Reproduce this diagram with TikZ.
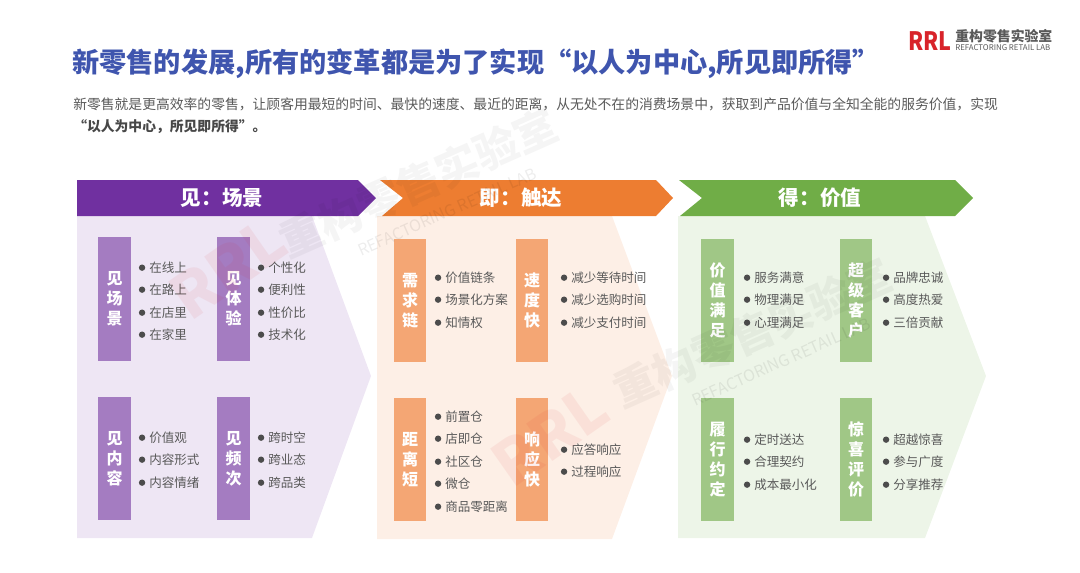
\documentclass[tikz,border=0pt]{standalone}
\usepackage{fontspec}
\setmainfont{Noto Sans CJK SC}
\definecolor{titleblue}{HTML}{3F55AE}
\definecolor{bodygray}{HTML}{595959}
\definecolor{jianmain}{HTML}{7030A0}
\definecolor{jiantint}{HTML}{EEE6F4}
\definecolor{jianbox}{HTML}{A47CC1}
\definecolor{jimain}{HTML}{ED7D31}
\definecolor{jitint}{HTML}{FDEFE6}
\definecolor{jibox}{HTML}{F4A674}
\definecolor{demain}{HTML}{70AD47}
\definecolor{detint}{HTML}{EDF5E8}
\definecolor{debox}{HTML}{A0C786}
\definecolor{logored}{HTML}{D8232A}
\tikzset{
    headtext/.style={text=white, font=\fontsize{15.4}{18}\selectfont\bfseries, inner sep=0pt},
    sidebox/.style={minimum width=24.5pt, minimum height=92.5pt, inner sep=0pt, align=center,
        text=white, font=\fontsize{12}{15}\selectfont\bfseries},
    itemdot/.style={circle, fill=bodygray!85!black, minimum size=4.8pt, inner sep=0pt},
    itemtext/.style={anchor=west, inner sep=0pt, yshift=-0.5pt, text=bodygray, font=\fontsize{9.4}{11}\selectfont,
        label={[itemdot, label distance=2.6pt]left:{}}},
    markcn/.style={rotate=24, text=black, opacity=0.04, font=\fontsize{32}{36}\selectfont\bfseries, inner sep=0pt},
    marken/.style={rotate=24, text=black, opacity=0.07, font=\fontsize{12}{14}\selectfont, inner sep=0pt},
    markrrl/.style={rotate=35, text=logored, opacity=0.07, font=\fontsize{46}{50}\selectfont\bfseries, inner sep=0pt},
}
\begin{document}
\begin{tikzpicture}[x=0.75pt, y=-0.75pt]
    \useasboundingbox (0,0) rectangle (1080,572);

    % Title and intro
    \node[anchor=west, inner sep=0pt, text=titleblue, font=\fontsize{20.4}{25}\selectfont\bfseries] (title) at (72,64)
        {新零售的发展,所有的变革都是为了实现“以人为中心,所见即所得”};
    \node[anchor=west, inner sep=0pt, text=bodygray, font=\fontsize{10.35}{13}\selectfont] (introa) at (73,104)
        {新零售就是更高效率的零售，让顾客用最短的时间、最快的速度、最近的距离，从无处不在的消费场景中，获取到产品价值与全知全能的服务价值，实现};
    \node[anchor=west, inner sep=0pt, text=bodygray!80!black, font=\fontsize{10.35}{13}\selectfont\bfseries] (introb) at (73,127)
        {“以人为中心，所见即所得”。};

    % Logo
    \node[anchor=west, inner sep=0pt, xscale=0.85, text=logored, font=\fontsize{19}{22}\selectfont\bfseries] (logorrl) at (908,41) {RRL};
    \node[anchor=west, inner sep=0pt, text=bodygray, font=\fontsize{10.4}{12}\selectfont\bfseries] (logocn) at (955,36) {重构零售实验室};
    \node[anchor=west, inner sep=0pt, text=bodygray, font=\fontsize{5.9}{7}\selectfont] (logoen) at (955,48) {REFACTORING RETAIL LAB};

    % Tinted chevrons
    \fill[jiantint] (77,216) -- (312,216) -- (371,376) -- (312,538) -- (77,538) -- cycle;
    \fill[jitint] (377,216) -- (612,216) -- (672,376) -- (612,539) -- (377,539) -- cycle;
    \fill[detint] (678,216) -- (925,216) -- (986,376) -- (925,538) -- (678,538) -- cycle;

    % Header arrows
    \fill[jianmain] (77,180) -- (358,180) -- (376,198) -- (358,216) -- (77,216) -- cycle;
    \fill[jimain] (380,180) -- (656,180) -- (673,198) -- (656,216) -- (382,216) -- (403,198) -- cycle;
    \fill[demain] (679,180) -- (955,180) -- (973,198) -- (955,216) -- (680,216) -- (702,198) -- cycle;
    \node[headtext] (headjian) at (222,198) {见：场景};
    \node[headtext] (headji) at (521,198) {即：触达};
    \node[headtext] (headde) at (820,198) {得：价值};

    % Side boxes
    \foreach \nm/\px/\py/\txt in {jiana/114.5/299/见\\场\\景, jianb/233.5/299/见\\体\\验,
            jianc/114.5/458.5/见\\内\\容, jiand/233.5/458.5/见\\频\\次}
        \node[sidebox, fill=jianbox] (\nm) at (\px,\py) {\txt};
    \foreach \nm/\px/\py/\txt in {jia/410/300.5/需\\求\\链, jib/532/300.5/速\\度\\快,
            jic/410/459.5/距\\离\\短, jid/532/459.5/响\\应\\快}
        \node[sidebox, fill=jibox] (\nm) at (\px,\py) {\txt};
    \foreach \nm/\px/\py/\txt in {dea/717.5/300.5/价\\值\\满\\足, deb/856/300.5/超\\级\\客\\户,
            dec/717.5/459.5/履\\行\\约\\定, ded/856/459.5/惊\\喜\\评\\价}
        \node[sidebox, fill=debox] (\nm) at (\px,\py) {\txt};

    % Bullet lists
    \foreach \px/\py/\txt in {149/267/在线上, 149/289/在路上, 149/312/在店里, 149/334/在家里,
            268/267/个性化, 268/289/便利性, 268/312/性价比, 268/334/技术化,
            149/437/价值观, 149/459/内容形式, 149/482/内容情绪,
            268/437/跨时空, 268/459/跨业态, 268/482/跨品类,
            445/277/价值链条, 445/299/场景化方案, 445/322/知情权,
            571/277/减少等待时间, 571/299/减少选购时间, 571/322/减少支付时间,
            445/416/前置仓, 445/438/店即仓, 445/461/社区仓, 445/483/微仓, 445/506/商品零距离,
            571/449/应答响应, 571/471/过程响应,
            754/277/服务满意, 754/299/物理满足, 754/322/心理满足,
            893/277/品牌忠诚, 893/299/高度热爱, 893/322/三倍贡献,
            754/439/定时送达, 754/461/合理契约, 754/484/成本最小化,
            893/439/超越惊喜, 893/461/参与广度, 893/484/分享推荐}
        \node[itemtext] (item-\px-\py) at (\px,\py) {\txt};

    % Watermarks
    \node[markrrl] (markrrla) at (228,268) {RRL};
    \node[markcn] (markcna) at (418,183) {重构零售实验室};
    \node[marken] (markena) at (447,212) {REFACTORING RETAIL LAB};
    \node[markrrl] (markrrlb) at (550,435) {RRL};
    \node[markcn] (markcnb) at (752,333) {重构零售实验室};
    \node[marken] (markenb) at (781,362) {REFACTORING RETAIL LAB};
\end{tikzpicture}
\end{document}
